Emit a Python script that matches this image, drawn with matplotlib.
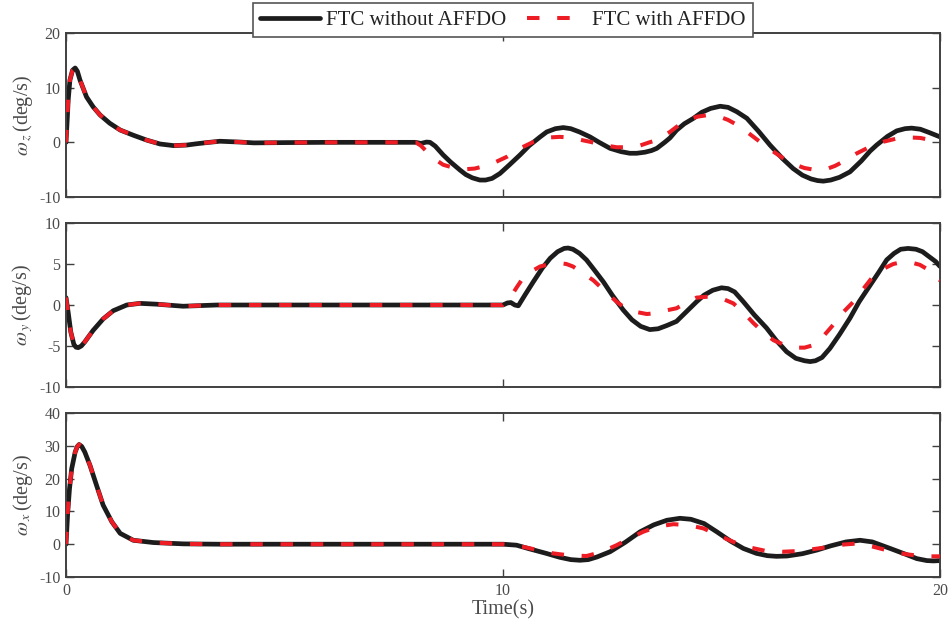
import numpy as np
import matplotlib
matplotlib.use("Agg")
import matplotlib.pyplot as plt

# ---------------- data ----------------
# common start-up transient (both controllers overlap for t < 8 s)
t_z_early = [0, 0.03, 0.05, 0.09, 0.15, 0.21, 0.26, 0.32, 0.47, 0.62, 0.78, 1.0, 1.24, 1.54,
             1.85, 2.15, 2.46, 2.76, 3.0, 3.22, 3.52, 3.98, 4.3, 5.0, 6.0, 7.0, 8.0]
z_early = [0, 4.5, 7.7, 11.4, 13.2, 13.6, 13.0, 11.4, 8.3, 6.5, 5.0, 3.5, 2.25, 1.3,
           0.4, -0.3, -0.6, -0.5, -0.25, -0.05, 0.2, 0.05, -0.1, -0.05, 0.0, 0.0, 0.0]

t_y_early = [0, 0.05, 0.11, 0.18, 0.23, 0.28, 0.35, 0.43, 0.62, 0.85, 1.08, 1.39, 1.69, 2.07,
             2.68, 3.45, 5.0, 7.0, 9.0, 10.0]
y_early = [0.9, -0.9, -3.3, -4.8, -5.15, -5.2, -5.0, -4.5, -3.1, -1.7, -0.7, 0.0, 0.2, 0.1,
           -0.15, 0.0, 0.0, 0.0, 0.0, 0.0]

t_x_early = [0, 0.04, 0.08, 0.13, 0.21, 0.26, 0.3, 0.36, 0.43, 0.55, 0.7, 0.85, 1.05, 1.24,
             1.54, 2.0, 2.69, 3.5, 5.0, 7.0, 9.0, 10.0]
x_early = [0, 9.8, 16.9, 23.0, 28.1, 29.8, 30.4, 29.8, 28.1, 24.0, 17.9, 11.9, 6.8, 3.3,
           1.2, 0.5, 0.1, 0.0, 0.0, 0.0, 0.0, 0.0]

# omega_z after the fault, black (FTC without AFFDO)
t_z_blk = [8.12, 8.25, 8.33, 8.45, 8.63, 8.8, 9.02, 9.15, 9.3, 9.47, 9.6, 9.75, 9.93, 10.15,
           10.39, 10.6, 10.85, 11.0, 11.2, 11.38, 11.55, 11.75, 11.99, 12.2, 12.45, 12.7,
           12.9, 13.06, 13.25, 13.4, 13.52, 13.7, 13.82, 13.97, 14.15, 14.36, 14.55, 14.75,
           14.97, 15.15, 15.35, 15.58, 15.85, 16.11, 16.4, 16.64, 16.85, 17.05, 17.2, 17.33,
           17.5, 17.7, 17.94, 18.2, 18.4, 18.55, 18.8, 19.01, 19.2, 19.35, 19.55, 19.75, 20.0]
z_blk = [-0.2, 0.05, 0.0, -0.7, -2.3, -3.6, -5.1, -5.9, -6.5, -6.9, -6.9, -6.6, -5.7, -4.1,
         -2.3, -0.6, 1.0, 1.9, 2.5, 2.7, 2.5, 1.9, 1.0, 0.0, -1.1, -1.7,
         -2.0, -2.0, -1.8, -1.5, -1.1, 0.0, 0.8, 2.2, 3.4, 4.4, 5.5, 6.2,
         6.6, 6.4, 5.6, 4.4, 2.0, -0.5, -3.0, -4.8, -6.0, -6.7, -7.0, -7.1,
         -6.9, -6.4, -5.4, -3.4, -1.6, -0.5, 1.1, 2.1, 2.5, 2.6, 2.4, 1.8, 1.0]

# omega_z after the fault, red dashed (FTC with AFFDO)
t_z_red = [8.12, 8.33, 8.5, 8.63, 8.8, 8.95, 9.17, 9.35, 9.55, 9.78, 10.1, 10.39, 10.7, 10.9,
           11.08, 11.3, 11.5, 11.75, 11.99, 12.3, 12.6, 12.9, 13.13, 13.35, 13.52, 13.82,
           14.05, 14.25, 14.45, 14.7, 14.95, 15.15, 15.4, 15.6, 15.88, 16.15, 16.41, 16.65,
           16.9, 17.18, 17.4, 17.6, 17.79, 18.1, 18.4, 18.7, 19.01, 19.3, 19.55, 19.8, 20.0]
z_red = [-0.6, -2.3, -3.4, -4.1, -4.5, -4.8, -4.9, -4.8, -4.4, -3.8, -2.6, -1.1, 0.1, 0.6,
         0.9, 1.0, 0.9, 0.5, 0.1, -0.5, -0.9, -0.9, -0.6, 0.0, 0.4, 1.9,
         3.3, 4.2, 4.7, 5.0, 4.7, 4.1, 3.0, 1.8, 0.1, -1.5, -2.9, -4.0,
         -4.7, -5.1, -4.9, -4.3, -3.5, -2.0, -0.8, 0.1, 0.7, 0.9, 0.8, 0.4, 0.1]

# omega_y after the fault, black
t_y_blk = [10.1, 10.18, 10.27, 10.35, 10.5, 10.69, 10.9, 11.08, 11.25, 11.4, 11.49, 11.6,
           11.75, 11.91, 12.1, 12.3, 12.5, 12.75, 12.95, 13.15, 13.36, 13.55, 13.75, 13.97,
           14.2, 14.43, 14.6, 14.8, 15.0, 15.15, 15.3, 15.5, 15.75, 16.03, 16.25, 16.49,
           16.7, 16.9, 17.03, 17.15, 17.3, 17.48, 17.7, 17.94, 18.15, 18.4, 18.6, 18.78,
           18.95, 19.1, 19.27, 19.45, 19.6, 19.75, 19.9, 20.0]
y_blk = [0.25, 0.3, 0.0, -0.1, 1.2, 2.8, 4.5, 5.7, 6.5, 6.9, 6.95, 6.8,
         6.3, 5.5, 4.2, 2.8, 1.2, -0.6, -1.8, -2.6, -3.0, -2.9, -2.5, -2.0,
         -0.8, 0.4, 1.2, 1.8, 2.1, 2.0, 1.6, 0.4, -1.2, -2.8, -4.3, -5.7,
         -6.5, -6.8, -6.9, -6.8, -6.4, -5.3, -3.6, -1.6, 0.4, 2.4, 4.0, 5.5,
         6.3, 6.8, 6.9, 6.8, 6.5, 5.9, 5.3, 4.7]

# omega_y after the fault, red dashed
t_y_red = [10.1, 10.2, 10.32, 10.46, 10.65, 10.85, 11.08, 11.3, 11.45, 11.6, 11.85, 12.07,
           12.35, 12.6, 12.8, 13.0, 13.29, 13.5, 13.7, 13.97, 14.2, 14.43, 14.65, 14.85,
           15.05, 15.27, 15.5, 15.73, 15.95, 16.19, 16.45, 16.72, 16.9, 17.1, 17.3, 17.56,
           17.8, 18.02, 18.25, 18.47, 18.7, 18.93, 19.1, 19.24, 19.4, 19.54, 19.7, 19.85, 20.0]
y_red = [0.5, 1.2, 2.2, 3.3, 4.1, 4.7, 5.0, 5.1, 5.0, 4.7, 3.8, 3.0,
         1.6, 0.4, -0.4, -0.8, -1.1, -1.0, -0.7, -0.4, 0.3, 0.9, 1.0, 1.0,
         0.7, 0.2, -0.9, -2.2, -3.3, -4.3, -4.9, -5.2, -5.2, -4.9, -4.0, -2.4,
         -0.8, 0.4, 2.0, 3.5, 4.4, 5.0, 5.2, 5.2, 5.1, 4.9, 4.4, 3.7, 3.0]

# omega_x after the fault, black
t_x_blk = [10.31, 10.6, 10.99, 11.3, 11.55, 11.76, 11.95, 12.15, 12.45, 12.8, 13.14, 13.45,
           13.75, 14.05, 14.3, 14.6, 14.89, 15.2, 15.5, 15.8, 16.05, 16.26, 16.5, 16.85,
           17.18, 17.5, 17.85, 18.17, 18.45, 18.86, 19.2, 19.47, 19.7, 19.85, 20.0]
x_blk = [-0.3, -1.4, -2.8, -4.0, -4.7, -4.9, -4.7, -3.9, -2.3, 0.6, 3.8, 5.9,
         7.3, 7.9, 7.6, 6.3, 3.8, 1.0, -1.3, -2.8, -3.5, -3.7, -3.6, -2.9,
         -1.8, -0.5, 0.7, 1.2, 0.7, -1.3, -3.0, -4.4, -5.0, -5.1, -5.0]

# omega_x after the fault, red dashed
t_x_red = [10.46, 10.8, 11.15, 11.5, 11.91, 12.25, 12.6, 12.9, 13.21, 13.55, 13.9, 14.25,
           14.59, 14.9, 15.27, 15.65, 16.03, 16.4, 16.72, 17.1, 17.48, 17.8, 18.09, 18.45,
           18.86, 19.2, 19.54, 19.8, 20.0]
x_red = [-0.8, -1.8, -2.8, -3.4, -3.6, -2.4, -0.3, 1.8, 3.8, 5.4, 6.1, 5.8,
         4.8, 2.9, 0.7, -1.0, -2.1, -2.3, -2.1, -1.5, -0.8, -0.1, 0.2, -0.7,
         -2.1, -3.0, -3.6, -3.7, -3.7]

ylabels = [r'$\omega_{\,z}\,$(deg/s)', r'$\omega_{\,y}\,$(deg/s)', r'$\omega_{\,x}\,$(deg/s)']
ylims = [(-10, 20), (-10, 10), (-10, 40)]
yticks = [[-10, 0, 10, 20], [-10, -5, 0, 5, 10], [-10, 0, 10, 20, 30, 40]]
xticks = [0, 10, 20]
legend_labels = ['FTC without AFFDO', 'FTC with AFFDO']
xlabel = 'Time(s)'

# ---------------- style ----------------
plt.rcParams['font.family'] = ['Liberation Serif', 'DejaVu Serif']
plt.rcParams['mathtext.fontset'] = 'stix'
plt.rcParams['axes.unicode_minus'] = False
TXT = '#4a4a4a'
SPN = '#404040'
BLK = '#1c1c1c'
RED = '#ee1c25'

fig = plt.figure(figsize=(9.53, 6.27), dpi=100)
W = 953.0
H = 627.0
left = 66 / W
width = (940 - 66) / W
boxes = [(33, 197), (223, 387), (413, 577)]

series = [(t_z_early + t_z_blk, z_early + z_blk, t_z_early + t_z_red, z_early + z_red),
          (t_y_early + t_y_blk, y_early + y_blk, t_y_early + t_y_red, y_early + y_red),
          (t_x_early + t_x_blk, x_early + x_blk, t_x_early + t_x_red, x_early + x_red)]

axes = []
handles = None
for i, (top, bot) in enumerate(boxes):
    ax = fig.add_axes([left, 1 - bot / H, width, (bot - top) / H])
    tb, vb, tr, vr = series[i]
    lb, = ax.plot(tb, vb, color=BLK, lw=3.4, solid_joinstyle='round',
                  solid_capstyle='round', label=legend_labels[0], zorder=2)
    lr, = ax.plot(tr, vr, color=RED, lw=2.9, dashes=(3.1, 4.4),
                  label=legend_labels[1], zorder=3)
    ax.set_xlim(0, 20)
    ax.set_ylim(*ylims[i])
    ax.set_yticks(yticks[i])
    ax.set_xticks(xticks)
    ax.tick_params(direction='in', length=6, width=1.0, colors=SPN,
                   labelcolor=TXT, labelsize=11.5, top=True, right=True, pad=4)
    for s in ax.spines.values():
        s.set_color(SPN)
        s.set_linewidth(1.4)
    ax.set_ylabel(ylabels[i], fontsize=14.5, color=TXT, labelpad=3)
    if i < 2:
        ax.set_xticklabels([])
    axes.append(ax)
    if i == 0:
        handles = [lb, lr]

axes[-1].set_xlabel(xlabel, fontsize=14.5, color=TXT, labelpad=1)
fig.align_ylabels(axes)

leg = fig.legend(handles, legend_labels, loc='upper center',
                 bbox_to_anchor=(503 / W, 1 - 3 / H), ncol=2, fontsize=15,
                 frameon=True, fancybox=False, framealpha=1, edgecolor='#555555',
                 handlelength=2.9, handletextpad=0.25, columnspacing=1.0,
                 borderpad=0.35, borderaxespad=0)
leg.get_frame().set_linewidth(1.2)
for txt in leg.get_texts():
    txt.set_color('#222222')
leg.set_zorder(10)

fig.savefig('out.png', dpi=100)
